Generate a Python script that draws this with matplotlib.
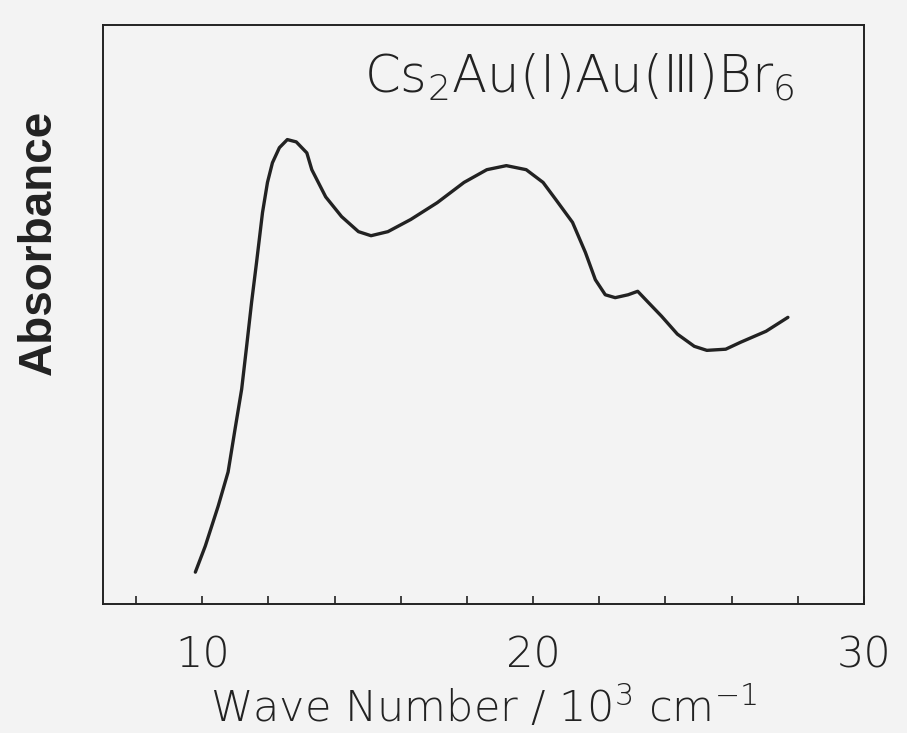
import matplotlib.pyplot as plt
import numpy as np

# absorption spectrum
wave = [9.79, 10.09, 10.48, 10.78, 10.99, 11.19, 11.34, 11.49, 11.64, 11.82,
        11.97, 12.12, 12.33, 12.57, 12.84, 13.16, 13.31, 13.73, 14.21, 14.72,
        15.10, 15.61, 16.30, 17.10, 17.91, 18.60, 19.19, 19.79, 20.30, 20.69,
        21.19, 21.58, 21.88, 22.18, 22.48, 22.87, 23.16, 23.46, 23.88, 24.36,
        24.87, 25.25, 25.82, 26.27, 27.04, 27.70]
absb = [0.055, 0.100, 0.169, 0.228, 0.302, 0.371, 0.445, 0.521, 0.590, 0.676,
        0.728, 0.762, 0.788, 0.802, 0.798, 0.779, 0.750, 0.703, 0.669, 0.643,
        0.636, 0.643, 0.664, 0.693, 0.728, 0.750, 0.757, 0.750, 0.728, 0.698,
        0.659, 0.607, 0.560, 0.534, 0.529, 0.534, 0.540, 0.522, 0.497, 0.466,
        0.445, 0.438, 0.440, 0.452, 0.471, 0.495]
major_ticks = [10, 20, 30]
minor_ticks = [8, 12, 14, 16, 18, 22, 24, 26, 28]

plt.rcParams['mathtext.default'] = 'regular'

ink = '#222222'
fig = plt.figure(figsize=(9.07, 7.33), dpi=100, facecolor='#f3f3f3')
ax = fig.add_axes([0.1136, 0.176, 0.839, 0.790])
ax.set_facecolor('#f3f3f3')

ax.plot(wave, absb, color=ink, lw=2.4, solid_capstyle='round',
        solid_joinstyle='round')

ax.set_xlim(7, 29.8)
ax.set_ylim(0, 1)
ax.set_xticks(major_ticks)
ax.set_xticks(minor_ticks, minor=True)
ax.set_yticks([])
ax.tick_params(axis='x', which='both', direction='in', length=6, width=1.2,
               color=ink, pad=22, labelsize=31, labelcolor=ink)
for lbl in ax.get_xticklabels():
    lbl.set_fontweight('light')
for s in ax.spines.values():
    s.set_color(ink)
    s.set_linewidth(1.4)

ax.set_xlabel(r'Wave Number / 10$^3$ cm$^{-1}$', fontsize=31,
              fontweight='light', color=ink, labelpad=6)
ax.set_ylabel('Absorbance', family='Liberation Sans', fontweight='bold',
              fontsize=33, color=ink)
ax.yaxis.set_label_coords(-0.056, 0.625)

ax.text(0.909, 0.91, r'Cs$_2$Au(Ⅰ)Au(Ⅲ)Br$_6$', transform=ax.transAxes,
        ha='right', va='center', fontsize=37, fontweight='light', color=ink)

fig.savefig('out.png', dpi=100, facecolor=fig.get_facecolor())
